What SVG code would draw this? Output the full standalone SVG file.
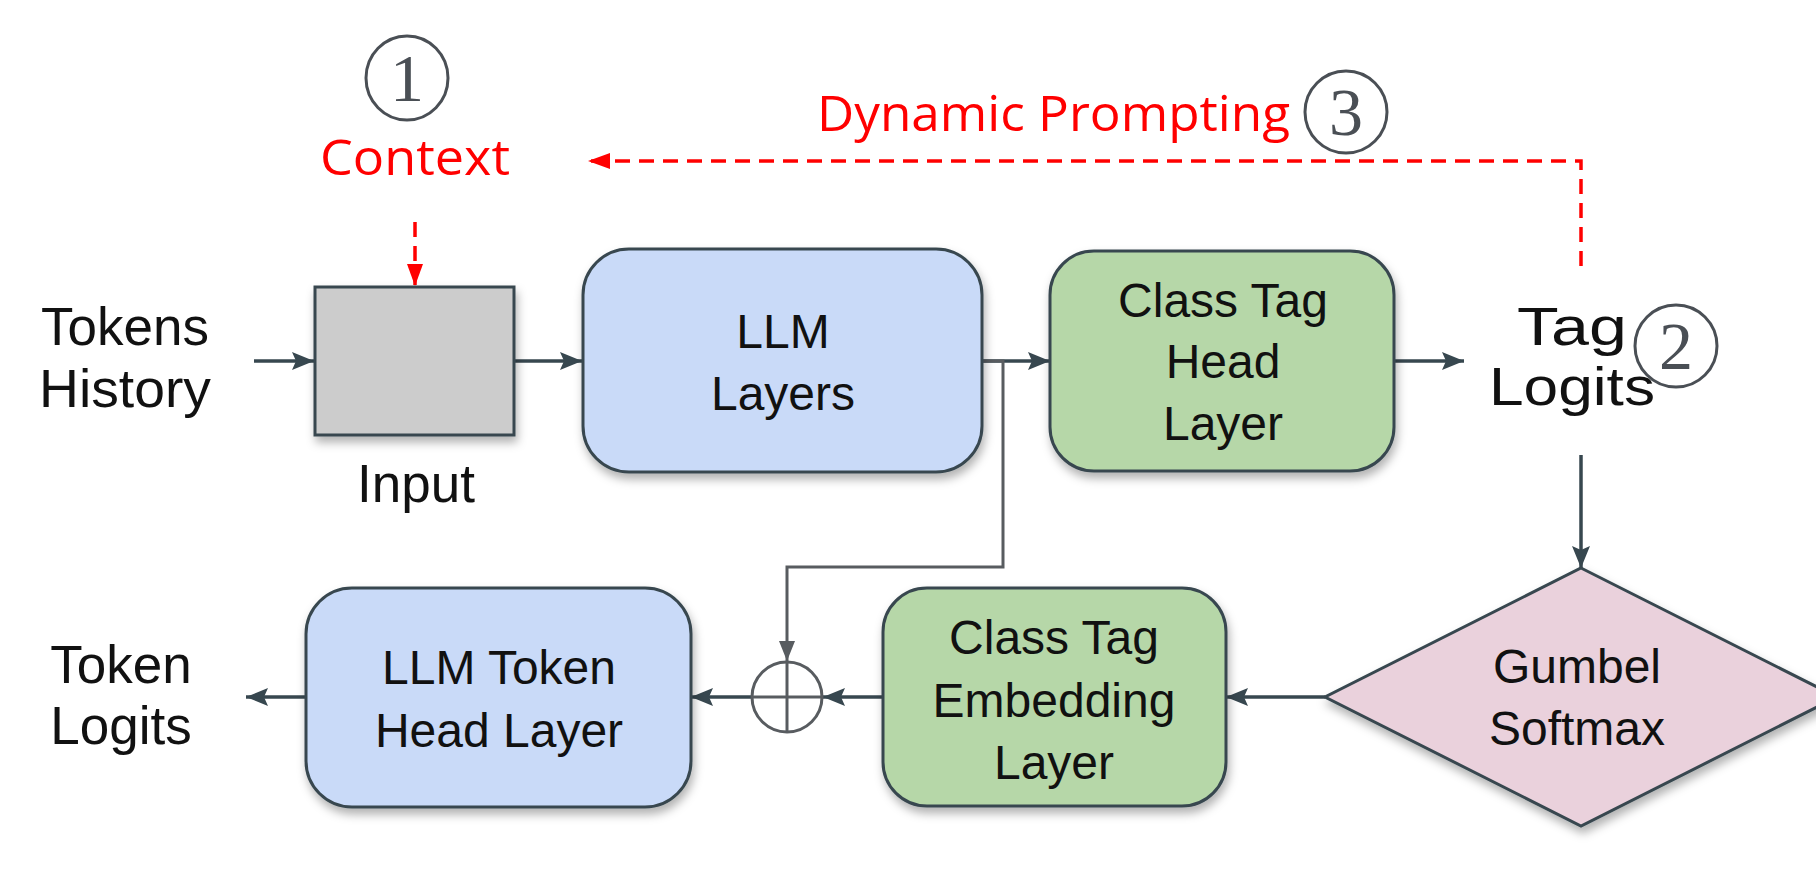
<svg xmlns="http://www.w3.org/2000/svg" width="1816" height="879" viewBox="0 0 1816 879">
<style>
  .box{stroke:#37474f;stroke-width:3}
  .blue{fill:#c9daf8}
  .green{fill:#b6d7a8}
  .pink{fill:#ead1dc}
  .gray{fill:#cccccc}
  .t{font-family:"Liberation Sans",Arial,sans-serif;font-size:48px;fill:#111;text-anchor:middle}
  .lbl{font-family:"Liberation Sans",Arial,sans-serif;font-size:53px;fill:#111;text-anchor:middle}
  .red{font-family:"Open Sans","Noto Sans",sans-serif;font-size:50px;fill:#ff0000}
  .num{font-family:"Liberation Serif","DejaVu Serif",serif;font-size:68px;fill:#4a4f55;text-anchor:middle}
  .ring{fill:none;stroke:#4a4f55;stroke-width:3}
  .dk{fill:none;stroke:#37474f;stroke-width:3.5}
  .gr{fill:none;stroke:#585c60;stroke-width:3}
  .rd{fill:none;stroke:#ff0000;stroke-width:3.5;stroke-dasharray:15 9}
</style>
<defs>
  <filter id="sh" x="-20%" y="-20%" width="140%" height="150%">
    <feDropShadow dx="2" dy="6" stdDeviation="5" flood-color="#000" flood-opacity="0.3"/>
  </filter>
  <marker id="ad" viewBox="0 0 22 18" markerWidth="22" markerHeight="18" refX="22" refY="9" orient="auto" markerUnits="userSpaceOnUse">
    <path d="M0,0 L22,9 L0,18 L4,9 Z" fill="#37474f"/>
  </marker>
  <marker id="ag" viewBox="0 0 16 20" markerWidth="16" markerHeight="20" refX="8" refY="20" orient="0" markerUnits="userSpaceOnUse">
    <path d="M0,0 L16,0 L8,20 Z" fill="#585c60"/>
  </marker>
  <marker id="ar" viewBox="0 0 22 16" markerWidth="22" markerHeight="16" refX="22" refY="8" orient="auto" markerUnits="userSpaceOnUse">
    <path d="M0,0 L22,8 L0,16 Z" fill="#ff0000"/>
  </marker>
</defs>

<g id="connectors">
  <line class="dk" x1="254" y1="361" x2="314" y2="361" marker-end="url(#ad)"/>
  <line class="dk" x1="514" y1="361" x2="582" y2="361" marker-end="url(#ad)"/>
  <line class="dk" x1="982" y1="361" x2="1050" y2="361" marker-end="url(#ad)"/>
  <line class="dk" x1="1394" y1="361" x2="1464" y2="361" marker-end="url(#ad)"/>
  <line class="dk" x1="1581" y1="455" x2="1581" y2="568" marker-end="url(#ad)"/>
  <line class="dk" x1="1325" y1="697" x2="1226" y2="697" marker-end="url(#ad)"/>
  <line class="dk" x1="883" y1="697" x2="823" y2="697" marker-end="url(#ad)"/>
  <line class="dk" x1="751" y1="697" x2="691" y2="697" marker-end="url(#ad)"/>
  <line class="dk" x1="306" y1="697" x2="246" y2="697" marker-end="url(#ad)"/>
  <path class="gr" d="M982,361 H1003 V567 H787 V661" marker-end="url(#ag)"/>
  <path class="rd" d="M1581,266 V161 H588" marker-end="url(#ar)"/>
  <line class="rd" x1="415" y1="222" x2="415" y2="286" marker-end="url(#ar)"/>
</g>

<g id="context">
  <ellipse class="ring" cx="407" cy="78" rx="41" ry="42"/>
  <text class="num" x="407" y="101">1</text>
  <text class="red" x="320" y="175" textLength="190" lengthAdjust="spacingAndGlyphs">Context</text>
</g>

<g id="dynamic-prompting">
  <text class="red" x="817" y="131" textLength="473" lengthAdjust="spacingAndGlyphs">Dynamic Prompting</text>
  <ellipse class="ring" cx="1346" cy="112" rx="41" ry="41"/>
  <text class="num" x="1346" y="135">3</text>
</g>

<g id="tokens-history">
  <text class="lbl" x="125" y="345">Tokens</text>
  <text class="lbl" x="125" y="407" textLength="172" lengthAdjust="spacingAndGlyphs">History</text>
</g>

<g id="input">
  <rect class="box gray" x="315" y="287" width="199" height="148" filter="url(#sh)"/>
  <text class="lbl" x="416" y="502">Input</text>
</g>

<g id="llm-layers">
  <rect class="box blue" x="583" y="249" width="399" height="223" rx="46" filter="url(#sh)"/>
  <text class="t" x="783" y="348">LLM</text>
  <text class="t" x="783" y="410">Layers</text>
</g>

<g id="class-tag-head">
  <rect class="box green" x="1050" y="251" width="344" height="220" rx="44" filter="url(#sh)"/>
  <text class="t" x="1223" y="317">Class Tag</text>
  <text class="t" x="1223" y="378">Head</text>
  <text class="t" x="1223" y="440">Layer</text>
</g>

<g id="tag-logits">
  <text class="lbl" x="1572" y="345" textLength="110" lengthAdjust="spacingAndGlyphs">Tag</text>
  <text class="lbl" x="1572" y="405" textLength="166" lengthAdjust="spacingAndGlyphs">Logits</text>
  <ellipse class="ring" cx="1676" cy="346" rx="41" ry="41"/>
  <text class="num" x="1676" y="369">2</text>
</g>

<g id="gumbel-softmax">
  <polygon class="box pink" points="1581,568 1837,697 1581,826 1325,697" filter="url(#sh)"/>
  <text class="t" x="1577" y="683">Gumbel</text>
  <text class="t" x="1577" y="745">Softmax</text>
</g>

<g id="class-tag-embedding">
  <rect class="box green" x="883" y="588" width="343" height="218" rx="44" filter="url(#sh)"/>
  <text class="t" x="1054" y="654">Class Tag</text>
  <text class="t" x="1054" y="717">Embedding</text>
  <text class="t" x="1054" y="779">Layer</text>
</g>

<g id="sum">
  <circle cx="787" cy="697" r="35" fill="#fff" stroke="#585c60" stroke-width="3"/>
  <line x1="752" y1="697" x2="822" y2="697" stroke="#585c60" stroke-width="3"/>
  <line x1="787" y1="662" x2="787" y2="732" stroke="#585c60" stroke-width="3"/>
</g>

<g id="llm-token-head">
  <rect class="box blue" x="306" y="588" width="385" height="219" rx="46" filter="url(#sh)"/>
  <text class="t" x="499" y="684">LLM Token</text>
  <text class="t" x="499" y="747">Head Layer</text>
</g>

<g id="token-logits">
  <text class="lbl" x="121" y="683">Token</text>
  <text class="lbl" x="121" y="744">Logits</text>
</g>
</svg>
